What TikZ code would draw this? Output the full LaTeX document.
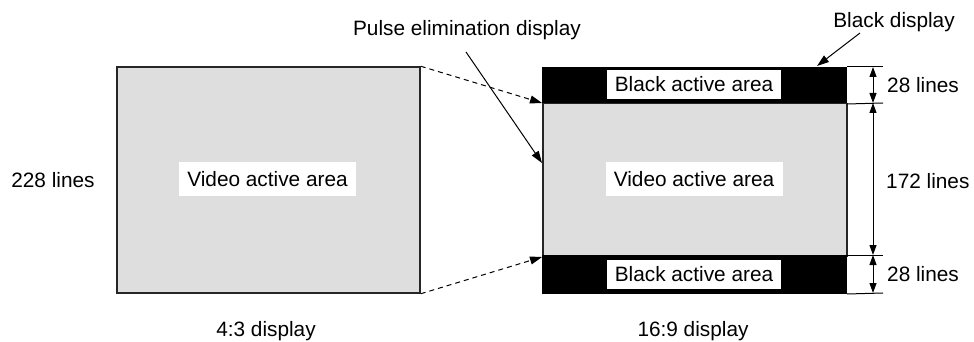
\documentclass[tikz,border=0pt]{standalone}
\usepackage{fontspec}
\setmainfont{Liberation Sans}
\usetikzlibrary{arrows.meta}
\begin{document}
\begin{tikzpicture}[x=1pt,y=-1pt,
  every node/.style={font=\fontsize{20.8}{24}\selectfont, inner sep=0pt},
  screen/.style={draw=black!85, line width=1.5pt, fill=black!13, rectangle},
  band/.style={fill=black, draw=black, line width=1pt, rectangle},
  lbl/.style={fill=white, rectangle},
  txt/.style={anchor=base},
  ext/.style={line width=1pt},
  dim/.style={line width=1pt, {Triangle[length=10pt,width=7pt]}-{Triangle[length=10pt,width=7pt]}},
  callout/.style={line width=1pt, -{Triangle[length=12pt,width=8pt]}},
  dashcall/.style={line width=1pt, dash pattern=on 5pt off 4pt, -{Triangle[length=12pt,width=8pt]}}]
\useasboundingbox (0,0) rectangle (974,342);
% left screen
\node[screen, minimum width=303pt, minimum height=226pt] (L) at (268.5,180) {};
\node[lbl, minimum width=177pt, minimum height=34pt] (Lv) at (267.5,179) {Video active area};
\node[txt] (L228) at (53,187) {228 lines};
\node[txt] (L43) at (266,336) {4:3 display};
% right screen
\node[band, minimum width=304pt, minimum height=36pt, anchor=north west] (Rt) at (542,67) {};
\node[screen, line width=1.5pt, minimum width=304pt, minimum height=152pt, anchor=north west] (Rm) at (542,103) {};
\node[band, minimum width=304pt, minimum height=38pt, anchor=north west] (Rb) at (542,255) {};
\node[lbl, minimum width=174pt, minimum height=29pt] (Rtl) at (694,84.5) {Black active area};
\node[lbl, minimum width=174pt, minimum height=29pt] (Rbl) at (694,274.5) {Black active area};
\node[lbl, minimum width=177pt, minimum height=34pt] (Rv) at (694,179) {Video active area};
\node[txt] (R169) at (693,336) {16:9 display};
% extension lines
\coordinate (e1) at (883,67);
\coordinate (e2) at (883,103);
\coordinate (e3) at (883,255);
\coordinate (e4) at (883,293);
\draw[ext] (Rt.north east) -- (e1);
\draw[ext] (Rt.south east) -- (e2);
\draw[ext] (Rb.north east) -- (e3);
\draw[ext] (Rb.south east) -- (e4);
\coordinate (d1) at (873,67);
\coordinate (d2) at (873,103);
\coordinate (d3) at (873,255);
\coordinate (d4) at (873,293);
\draw[dim] (d1) -- (d2);
\draw[dim] (d2) -- (d3);
\draw[dim] (d3) -- (d4);
\node[txt, anchor=base west] (t28a) at (887,93) {28 lines};
\node[txt, anchor=base west] (t172) at (886,188) {172 lines};
\node[txt, anchor=base west] (t28b) at (887,281) {28 lines};
% callouts
\node[txt] (pulse) at (467,36) {Pulse elimination display};
\node[txt] (blk) at (894,28) {Black display};
\coordinate (p0) at (466,52);
\coordinate (p1) at (542,163);
\draw[callout] (p0) -- (p1);
\coordinate (b0) at (860,33);
\coordinate (b1) at (817,66);
\draw[callout] (b0) -- (b1);
% dashed
\coordinate (q1) at (542,103);
\coordinate (q2) at (542,257);
\draw[dashcall] (L.north east) -- (q1);
\draw[dashcall] (L.south east) -- (q2);
\end{tikzpicture}
\end{document}
